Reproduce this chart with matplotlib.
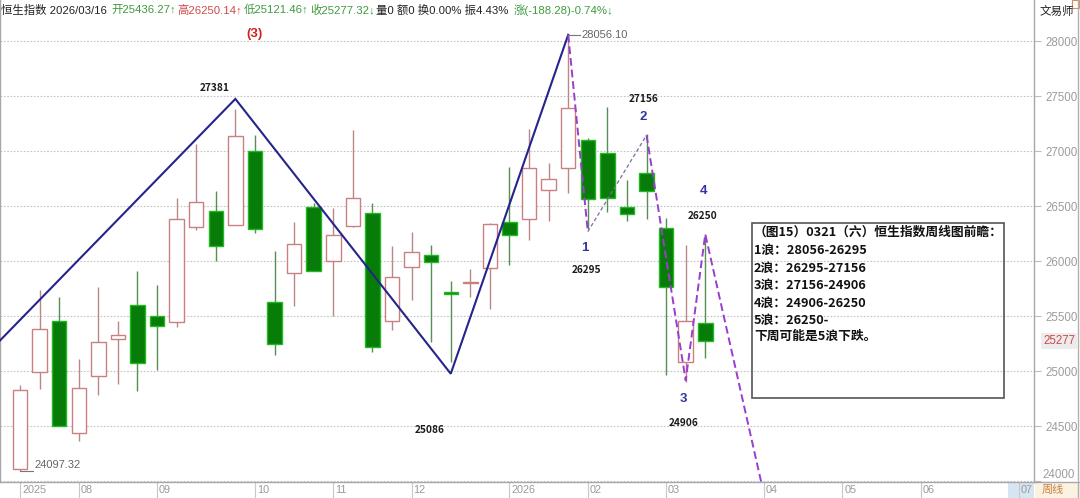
import matplotlib
matplotlib.use('Agg')
import matplotlib.pyplot as plt
from matplotlib.patches import Rectangle
from matplotlib import transforms

CJK = ['Noto Sans CJK SC', 'DejaVu Sans']
NUM = ['Liberation Sans', 'Noto Sans CJK SC', 'DejaVu Sans']

# ---------------- data ----------------
opens = [24110, 24995, 25456, 24436, 24955, 25296, 25607, 25507, 25447, 26317,
         26459, 26332, 27002, 25634, 25894, 26498, 26006, 26323, 26438, 25456,
         25951, 26060, 25720, 25800, 25937, 26359, 26383, 26646, 26851, 27099,
         26987, 26498, 26800, 26302, 25085, 25436.27]
highs = [24873, 25743, 25674, 25115, 25764, 25462, 25915, 25788, 26580, 27063,
         26640, 27381, 27147, 26091, 26362, 26528, 26489, 27192, 26534, 26142,
         26268, 26150, 25824, 25930, 26345, 26861, 27207, 26897, 28056.10, 27123,
         27404, 26736, 27156, 26399, 26150, 26250.14]
lows = [24097.32, 24843, 24500, 24370, 24783, 24889, 24818, 25009, 25402, 26284,
        26006, 26332, 26256, 25145, 25598, 25915, 25502, 26313, 25181, 25380,
        25652, 25266, 25086, 25674, 25568, 25969, 26193, 26368, 26619, 26295,
        26449, 26368, 26383, 24964, 24906, 25121.46]
closes = [24828, 25387, 24505, 24852, 25266, 25335, 25079, 25417, 26389, 26543,
          26136, 27138, 26293, 25251, 26157, 25915, 26241, 26573, 25226, 25855,
          26087, 25991, 25700, 25815, 26338, 26238, 26845, 26745, 27395, 26564,
          26573, 26428, 26640, 25764, 25456, 25277.32]
prev_close = 25465.60
header_name = '恒生指数'
header_date = '2026/03/16'

month_pos = [0, 3, 7, 12, 16, 20, 25, 29, 33, 38, 42, 46, 51]
month_labels = ['2025', '08', '09', '10', '11', '12', '2026', '02', '03', '04', '05', '06', '07']
yticks = [24000, 24500, 25000, 25500, 26000, 26500, 27000, 27500, 28000]

# zigzag (wave) vertices
main_wave_x = [-1.022, 11, 22, 28]
main_wave_y = [25281, 27477, 24979, 28060]
fc_wave_x = [28, 29, 32, 34, 35, 37.85]
fc_wave_y = [28060, 26270, 27147, 24918, 26247, 24000]

wave_values = ['27381', '25086', '27156', '26295', '24906', '26250']
wave_numbers = ['1', '2', '3', '4']

box_lines = ['（图15）0321（六）恒生指数周线图前瞻：',
             '1浪：28056-26295',
             '2浪：26295-27156',
             '3浪：27156-24906',
             '4浪：24906-26250',
             '5浪：26250-',
             '下周可能是5浪下跌。']

# ---------------- figure ----------------
W, H = 1080, 498
fig = plt.figure(figsize=(W / 100, H / 100), dpi=100)
fig.patch.set_facecolor('white')


def fx(x):
    return x / W


def fy(y):
    return 1 - y / H


# bottom-right tag backgrounds (behind everything)
fig.add_artist(Rectangle((fx(1008), 0), fx(1034) - fx(1008), 16 / H,
                         transform=fig.transFigure, facecolor='#d7e5f3', edgecolor='none',
                         zorder=-5))
fig.add_artist(Rectangle((fx(1035), 0), fx(1080) - fx(1035), 16 / H,
                         transform=fig.transFigure, facecolor='#fbf2e2', edgecolor='none',
                         zorder=-5))

ax = fig.add_axes([0, 16 / H, 1034 / W, 482 / H])
ax.set_xlim(-1.022, 51.79)
ax.set_ylim(23995, 28376)
ax.set_facecolor('white')

ax.spines['top'].set_visible(False)
for s in ['left', 'right', 'bottom']:
    ax.spines[s].set_color('#a8a8a8')
    ax.spines[s].set_linewidth(1.0)

ax.set_yticks(yticks)
ax.set_yticklabels([''] + [str(v) for v in yticks[1:]])
ax.yaxis.tick_right()
ax.tick_params(axis='y', length=5, width=0.8, color='#bdbdbd', pad=3,
               labelsize=8.3, labelcolor='#9c9c9c')
for lab in ax.get_yticklabels():
    lab.set_family(NUM)
ax.text(1.0, yticks[0], str(yticks[0]), transform=transforms.offset_copy(
        ax.get_yaxis_transform(), fig=fig, x=8, y=6, units='dots'),
        fontsize=8.3, color='#9c9c9c', family=NUM, ha='left', va='center', clip_on=False)
ax.grid(axis='y', color='#c4c4c4', linestyle=(0, (1.5, 1.5)), linewidth=0.8, zorder=0)
ax.set_axisbelow(True)

ax.set_xticks(month_pos)
ax.set_xticklabels([])
ax.tick_params(axis='x', direction='out', length=16, width=0.8, color='#c8c8c8')
lab_trans = transforms.offset_copy(ax.get_xaxis_transform(), fig=fig, x=2, y=-8, units='dots')
for p, lab in zip(month_pos, month_labels):
    ax.text(p, 0, lab, transform=lab_trans, ha='left', va='center', fontsize=7.8,
            color='#9a9a9a', family=NUM, clip_on=False)

# ---------------- candles ----------------
up_edge, up_wick = '#c98080', '#b88888'
dn_fill, dn_edge, dn_wick = '#087c08', '#22b822', '#568e56'
for i, (o, h, l, c) in enumerate(zip(opens, highs, lows, closes)):
    up = c >= o
    ax.vlines(i, l, h, color=up_wick if up else dn_wick, lw=1.0, zorder=2)
    bottom = min(o, c)
    height = max(abs(c - o), 14)
    ax.bar(i, height, bottom=bottom, width=0.74,
           facecolor='white' if up else dn_fill,
           edgecolor=up_edge if up else dn_edge, linewidth=1.0, zorder=3)

# ---------------- wave lines ----------------
ax.plot(main_wave_x, main_wave_y, color='#24248c', lw=1.5, zorder=5,
        solid_joinstyle='miter')
ax.plot(fc_wave_x[0:2], fc_wave_y[0:2], color='#9a3ccc', lw=1.4,
        linestyle=(0, (4, 2)), zorder=5)
ax.plot(fc_wave_x[1:3], fc_wave_y[1:3], color='#7c6c9c', lw=0.9,
        linestyle=(0, (3, 2)), zorder=5)
ax.plot(fc_wave_x[2:], fc_wave_y[2:], color='#9a3ccc', lw=1.4,
        linestyle=(0, (4, 2)), zorder=5)

# extreme price markers
ax.plot([28, 28.6], [highs[28], highs[28]], color='#777777', lw=0.8, zorder=6)
ax.text(28.68, highs[28], f'{highs[28]:.2f}', fontsize=8, color='#666666',
        family=NUM, va='center', ha='left', zorder=6)
ax.plot([0, 0.67], [lows[0], lows[0]], color='#777777', lw=0.8, zorder=6)
ax.text(0.75, lows[0] + 50, f'{lows[0]:.2f}', fontsize=8, color='#666666',
        family=NUM, va='center', ha='left', zorder=6)

# wave value labels
val_pos = [(9.96, 27579), (20.9, 24472), (31.83, 27479), (28.92, 25921),
           (33.88, 24527), (34.85, 26410)]
for (x, y), t in zip(val_pos, wave_values):
    ax.text(x, y, t, fontsize=7.3, fontweight='bold', color='#1a1a1a',
            family=CJK, ha='center', va='center', zorder=7)
num_pos = [(28.87, 26120), (31.83, 27316), (33.88, 24753), (34.9, 26637)]
for (x, y), t in zip(num_pos, wave_numbers):
    ax.text(x, y, t, fontsize=9.5, fontweight='bold', color='#3434a4',
            family=NUM, ha='center', va='center', zorder=7)
ax.text(11.96, 28068, '(3)', fontsize=9.5, fontweight='bold', color='#cc2222',
        family=NUM, ha='center', va='center', zorder=7)

# current price tag
ax.text(1.0, closes[-1], f'{closes[-1]:.0f}', transform=transforms.offset_copy(
        ax.get_yaxis_transform(), fig=fig, x=9, y=0, units='dots'),
        fontsize=8.3, color='#d04848', family=NUM, ha='left', va='center',
        clip_on=False, zorder=8,
        bbox=dict(boxstyle='square,pad=0.15', facecolor='#ececec', edgecolor='none'))

# ---------------- text box ----------------
fig.add_artist(Rectangle((fx(752), fy(398)), fx(1004) - fx(752), fy(223) - fy(398),
                         transform=fig.transFigure, fill=False, edgecolor='#555555',
                         linewidth=1.2, zorder=10))
line_y = [232, 250, 268, 285, 303, 320, 336]
for t, yy in zip(box_lines, line_y):
    fig.text(fx(754), fy(yy), t, fontsize=9.2, fontweight='bold', color='#111111',
             family=CJK, ha='left', va='center', zorder=11)

# ---------------- header ----------------
o, h, l, c = opens[-1], highs[-1], lows[-1], closes[-1]
chg = c - prev_close
pct = chg / prev_close * 100
amp = (h - l) / prev_close * 100
segments = [
    (f'{header_name} {header_date} ', '#222222'),
    (f'开{o:.2f}↑', '#3f9a3f'),
    (f'高{h:.2f}↑', '#d24a4a'),
    (f'低{l:.2f}↑', '#3f9a3f'),
    (f'收{c:.2f}↓', '#3f9a3f'),
    ('量0 额0 换0.00% 振' + f'{amp:.2f}% ', '#222222'),
    (f'涨({chg:.2f}){pct:.2f}%↓', '#3f9a3f'),
]
renderer = fig.canvas.get_renderer()
xcur = 1.0
for t, col in segments:
    txt = fig.text(fx(xcur), fy(10), t, fontsize=8.2, color=col, family=NUM,
                   ha='left', va='center', zorder=12)
    bb = txt.get_window_extent(renderer=renderer)
    xcur += bb.width + 1.5

# top-right label and small icon
fig.text(fx(1040), fy(11), '文易师', fontsize=8.3, color='#222222', family=CJK,
         ha='left', va='center')
fig.add_artist(Rectangle((fx(1072), fy(8)), fx(7), fy(0) - fy(8), transform=fig.transFigure,
                         fill=False, edgecolor='#d09060', linewidth=0.8))

fig.text(fx(1042), fy(490), '周线', fontsize=8.0, color='#c7813f', family=CJK,
         ha='left', va='center')
# bottom line across the right panel and right figure border
fig.add_artist(plt.Line2D([fx(1034), 1], [16 / H, 16 / H], transform=fig.transFigure,
                          color='#a8a8a8', lw=1.0))
fig.add_artist(plt.Line2D([fx(1078), fx(1078)], [0, 1], transform=fig.transFigure,
                          color='#b0b0b0', lw=1.0))

fig.savefig('out.png', dpi=100)
